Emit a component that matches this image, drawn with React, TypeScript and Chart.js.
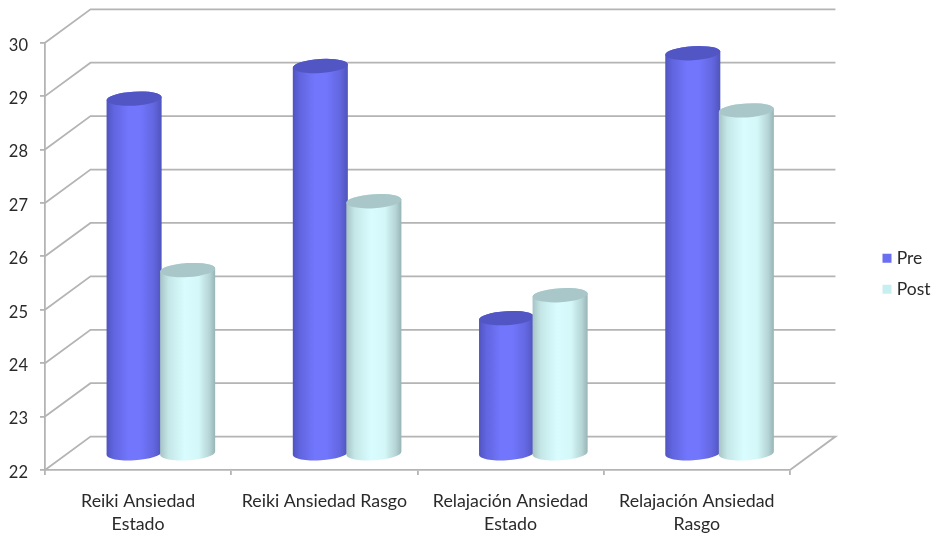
import React, { useEffect, useRef } from "react";
import { Chart, registerables } from "chart.js";

Chart.register(...registerables);

const categories = [
  ["Reiki Ansiedad", "Estado"],
  "Reiki Ansiedad Rasgo",
  ["Relajación Ansiedad", "Estado"],
  ["Relajación Ansiedad", "Rasgo"],
];
const preValues = [28.64, 29.25, 24.53, 29.49];
const postValues = [25.43, 26.72, 24.96, 28.42];
const axisMin = 22;
const axisMax = 30;

const GRID = "#b4b4b4";
const TEXT = "#2a2a2a";
const FONT = "Lato";
// Offset from the front plane of the box to its back wall.
const DEPTH_X = 45.5;
const DEPTH_Y = -33.4;
const TILT = (-3.5 * Math.PI) / 180;
const CAP_RY = 7;

type Shade = { stops: [number, string][]; cap: string };
const preShade: Shade = {
  stops: [
    [0, "#5054bf"],
    [0.12, "#6064dd"],
    [0.4, "#7276fd"],
    [0.6, "#7276fd"],
    [0.85, "#6367e0"],
    [1, "#5054bb"],
  ],
  cap: "#5256c4",
};
const postShade: Shade = {
  stops: [
    [0, "#a6c3c4"],
    [0.15, "#c4e6e7"],
    [0.45, "#d9fdff"],
    [0.7, "#d4f7f8"],
    [0.9, "#b4d3d4"],
    [1, "#98b4b5"],
  ],
  cap: "#a9c7c8",
};

function drawCylinder(
  ctx: CanvasRenderingContext2D,
  cx: number,
  topY: number,
  baseY: number,
  width: number,
  shade: Shade
) {
  const rx = width / 2;
  const dx = rx * Math.cos(TILT);
  const dy = rx * Math.sin(TILT);
  const grad = ctx.createLinearGradient(cx - rx, 0, cx + rx, 0);
  shade.stops.forEach(([at, color]) => grad.addColorStop(at, color));

  ctx.beginPath();
  ctx.moveTo(cx - dx, topY - dy);
  ctx.lineTo(cx - dx, baseY - dy);
  ctx.ellipse(cx, baseY, rx, CAP_RY, TILT, Math.PI, 0, true);
  ctx.lineTo(cx + dx, topY + dy);
  ctx.ellipse(cx, topY, rx, CAP_RY, TILT, 0, Math.PI, true);
  ctx.closePath();
  ctx.fillStyle = grad;
  ctx.fill();

  ctx.beginPath();
  ctx.ellipse(cx, topY, rx, CAP_RY, TILT, 0, Math.PI * 2);
  ctx.fillStyle = shade.cap;
  ctx.fill();
}

// Draws the box walls and the cylinders in place of the flat bars.
const cylinderBoxPlugin = {
  id: "cylinderBox",
  beforeDraw(chart: any) {
    const legend = chart.legend;
    legend.left = 872.5;
    legend.right = 936;
    legend.top = 236;
    legend.bottom = 534;
  },
  beforeDatasetsDraw(chart: any) {
    const { ctx } = chart;
    const xs = chart.scales.x;
    const ys = chart.scales.y;

    ctx.save();
    ctx.strokeStyle = GRID;
    ctx.lineWidth = 1.8;
    ctx.lineJoin = "miter";
    ys.ticks.forEach((tick: any) => {
      const y = ys.getPixelForValue(tick.value);
      ctx.beginPath();
      ctx.moveTo(xs.left, y);
      ctx.lineTo(xs.left + DEPTH_X, y + DEPTH_Y);
      ctx.lineTo(xs.right + DEPTH_X, y + DEPTH_Y);
      if (tick.value === axisMin) ctx.lineTo(xs.right, y);
      ctx.stroke();
    });

    const shades = [preShade, postShade];
    const base = ys.getPixelForValue(axisMin);
    chart.data.datasets.forEach((_: unknown, d: number) => {
      const meta = chart.getDatasetMeta(d);
      meta.data.forEach((bar: any) => {
        drawCylinder(
          ctx,
          bar.x + DEPTH_X / 2,
          bar.y + DEPTH_Y / 2,
          base + DEPTH_Y / 2,
          bar.width,
          shades[d]
        );
      });
    });
    ctx.restore();
    return false;
  },
};

export default function App() {
  const canvasRef = useRef<HTMLCanvasElement | null>(null);

  useEffect(() => {
    if (!canvasRef.current) return;
    const chart = new Chart(canvasRef.current, {
      type: "bar",
      data: {
        labels: categories,
        datasets: [
          { label: "Pre", data: preValues, backgroundColor: "#6a6ef0" },
          { label: "Post", data: postValues, backgroundColor: "#c8eff0" },
        ],
      },
      options: {
        responsive: false,
        animation: false,
        layout: { padding: { top: 42.7, left: 0, right: 78, bottom: 0 } },
        datasets: { bar: { categoryPercentage: 0.575, barPercentage: 1.03 } },
        scales: {
          x: {
            grid: { drawOnChartArea: false, color: GRID, lineWidth: 1.8, tickLength: 5 },
            border: { color: GRID, width: 1.8 },
            afterFit: (scale: any) => {
              scale.height = 64;
            },
            ticks: {
              color: TEXT,
              font: { family: FONT, size: 17.8, lineHeight: 1.33 },
              padding: 14,
              maxRotation: 0,
              autoSkip: false,
            },
          },
          y: {
            min: axisMin,
            max: axisMax,
            grid: { drawOnChartArea: false, color: GRID, lineWidth: 1.8, tickLength: 5 },
            border: { color: GRID, width: 1.8 },
            afterFit: (scale: any) => {
              scale.width = 45;
            },
            ticks: {
              stepSize: 1,
              color: TEXT,
              font: { family: FONT, size: 16.5 },
              padding: 12,
              labelOffset: 2.5,
            },
          },
        },
        plugins: {
          tooltip: { enabled: false },
          legend: {
            position: "right",
            align: "start",
            labels: {
              color: TEXT,
              font: { family: FONT, size: 17.5 },
              usePointStyle: true,
              pointStyle: "rect",
              boxWidth: 2,
              boxHeight: 9,
              padding: 13.5,
            },
          },
        },
      } as any,
      plugins: [cylinderBoxPlugin],
    });
    return () => chart.destroy();
  }, []);

  return (
    <div style={{ position: "fixed", left: 0, top: 0, width: 936, height: 534, background: "#fff" }}>
      <canvas ref={canvasRef} width={936} height={534} style={{ display: "block" }} />
    </div>
  );
}
